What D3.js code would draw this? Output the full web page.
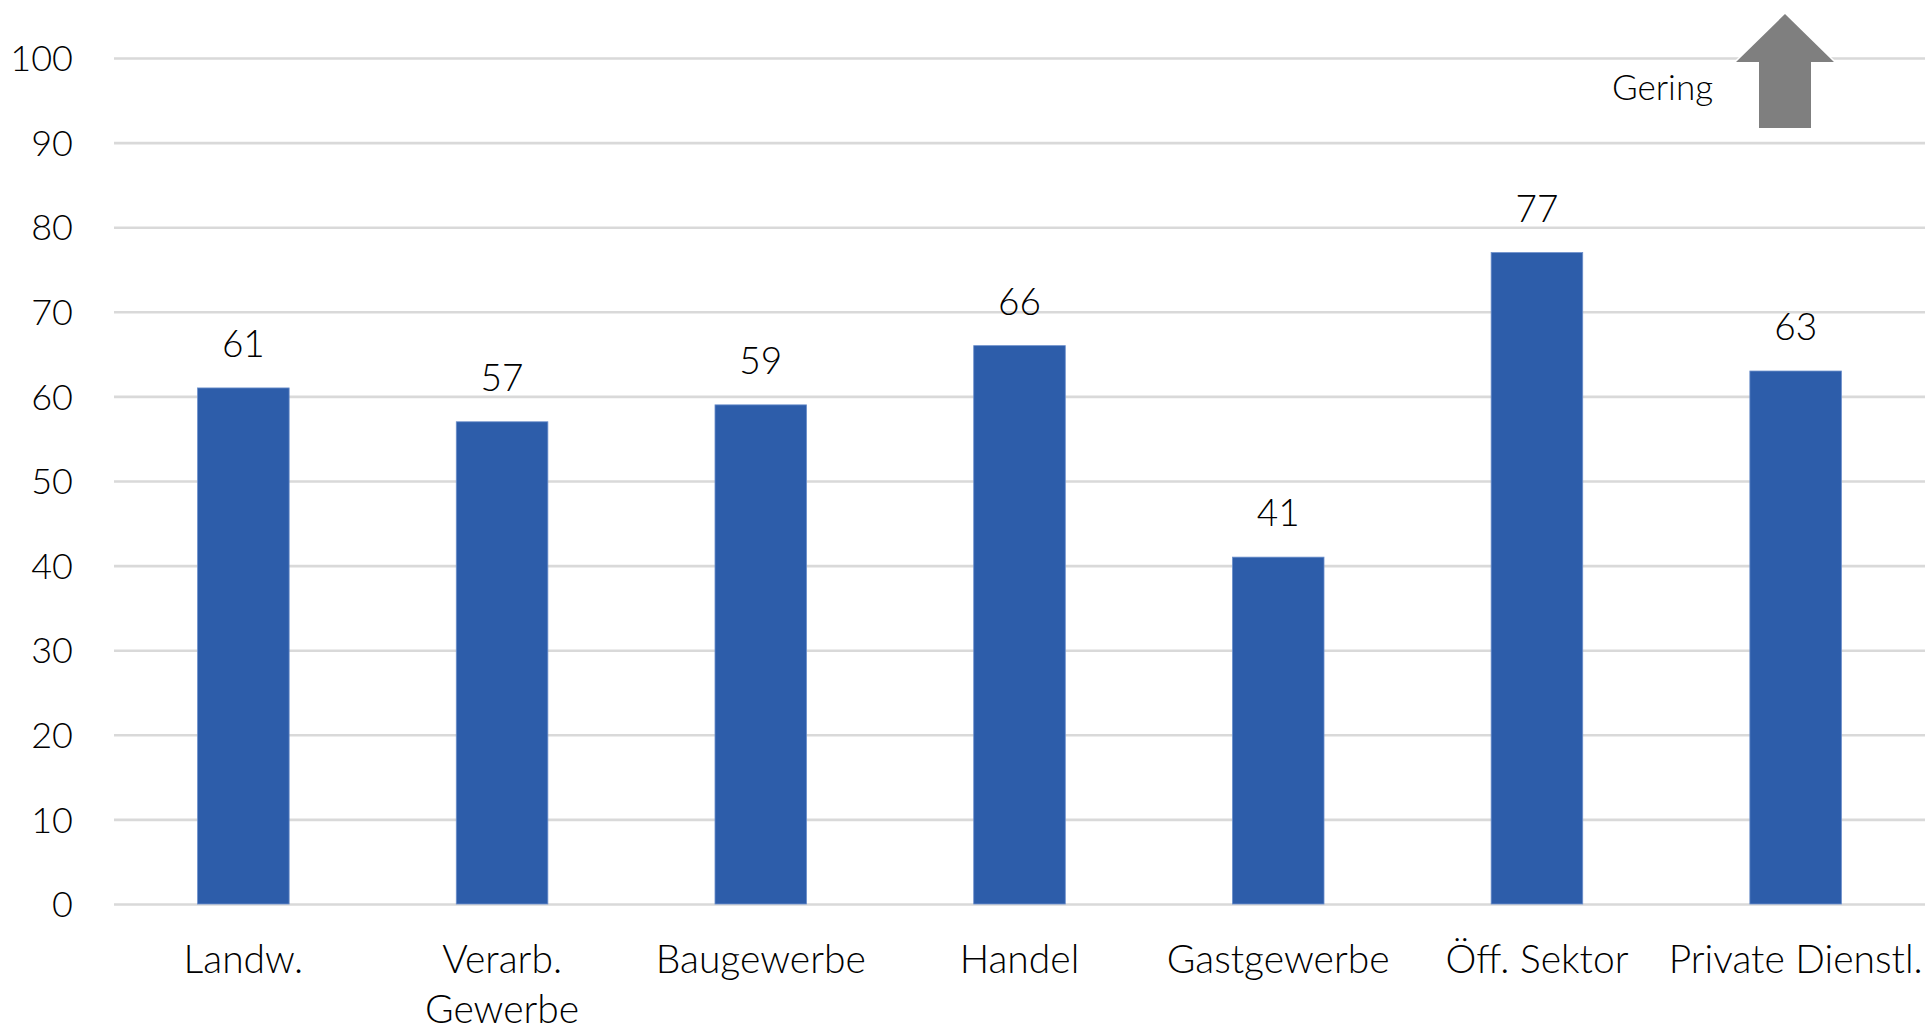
<!DOCTYPE html>
<html>
<head>
<meta charset="utf-8">
<script src="https://cdn.jsdelivr.net/npm/d3@7"></script>
<style>
  html, body { margin: 0; padding: 0; background: #fff; }
  svg text { font-family: "Source Sans Pro", Lato, "Open Sans", sans-serif; font-weight: 300; fill: #000; }
</style>
</head>
<body>
<div id="chart"></div>
<script>
// ---- Data --------------------------------------------------------------
const categories = ["Landw.", "Verarb.\nGewerbe", "Baugewerbe", "Handel", "Gastgewerbe", "Öff. Sektor", "Private Dienstl."];
const values = [61, 57, 59, 66, 41, 77, 63];
const yTicks = [0, 10, 20, 30, 40, 50, 60, 70, 80, 90, 100];
const arrowLabel = "Gering";

// ---- Layout ------------------------------------------------------------
const W = 1925, H = 1030;
const M = { left: 114, right: 0, top: 58, bottom: 126 };
const COL = { bar: "#2D5DAA", barEdge: "#6C8FCB", grid: "#D9D9D9", arrow: "#7F7F7F" };
const FONT = 39;
const TICKFONT = 36;

const svg = d3.select("#chart").append("svg")
  .attr("width", W).attr("height", H)
  .attr("viewBox", `0 0 ${W} ${H}`);

const x = d3.scaleBand()
  .domain(categories)
  .range([M.left, W - M.right])
  .paddingInner(0.646)
  .paddingOuter(0.323);

const y = d3.scaleLinear().domain([0, 100]).range([H - M.bottom, M.top]);

// gridlines + tick labels
const yAxis = svg.append("g")
  .attr("transform", `translate(${M.left},0)`)
  .call(d3.axisLeft(y).tickValues(yTicks).tickSize(-(W - M.left - M.right)).tickPadding(41));
yAxis.select(".domain").remove();
yAxis.selectAll(".tick line").attr("stroke", COL.grid).attr("stroke-width", 2.6);
yAxis.selectAll(".tick text")
  .attr("font-size", TICKFONT)
  .style("font-family", null)
  .attr("dy", "0.35em");

// bars
svg.append("g").selectAll("rect")
  .data(values)
  .join("rect")
  .attr("x", (d, i) => x(categories[i]))
  .attr("y", (d) => y(d))
  .attr("width", x.bandwidth())
  .attr("height", (d) => y(0) - y(d))
  .attr("fill", COL.bar)
  .attr("stroke", COL.barEdge)
  .attr("stroke-width", 0.8);

// value labels
svg.append("g").selectAll("text")
  .data(values)
  .join("text")
  .attr("x", (d, i) => x(categories[i]) + x.bandwidth() / 2)
  .attr("y", (d) => y(d) - 31)
  .attr("text-anchor", "middle")
  .attr("font-size", TICKFONT + 1)
  .text((d) => d);

// category labels (may wrap on \n)
const xLab = svg.append("g").selectAll("text")
  .data(categories)
  .join("text")
  .attr("x", (d) => x(d) + x.bandwidth() / 2)
  .attr("y", 973)
  .attr("text-anchor", "middle")
  .attr("font-size", FONT);
xLab.each(function (d) {
  const t = d3.select(this);
  d.split("\n").forEach((ln, i) => {
    t.append("tspan").attr("x", x(d) + x.bandwidth() / 2).attr("dy", i ? 50 : 0).text(ln);
  });
});

// "Gering" arrow annotation, top right
const ax = 1785, ay = 14;
svg.append("path")
  .attr("d", `M${ax},${ay} L${ax + 49},${ay + 48} L${ax + 26},${ay + 48} L${ax + 26},${ay + 114}
              L${ax - 26},${ay + 114} L${ax - 26},${ay + 48} L${ax - 49},${ay + 48} Z`)
  .attr("fill", COL.arrow)
  .attr("stroke", "#fff")
  .attr("stroke-width", 3)
  .attr("paint-order", "stroke");
svg.append("text")
  .attr("x", 1713).attr("y", 100)
  .attr("text-anchor", "end")
  .attr("font-size", 35)
  .text(arrowLabel);
</script>
</body>
</html>
